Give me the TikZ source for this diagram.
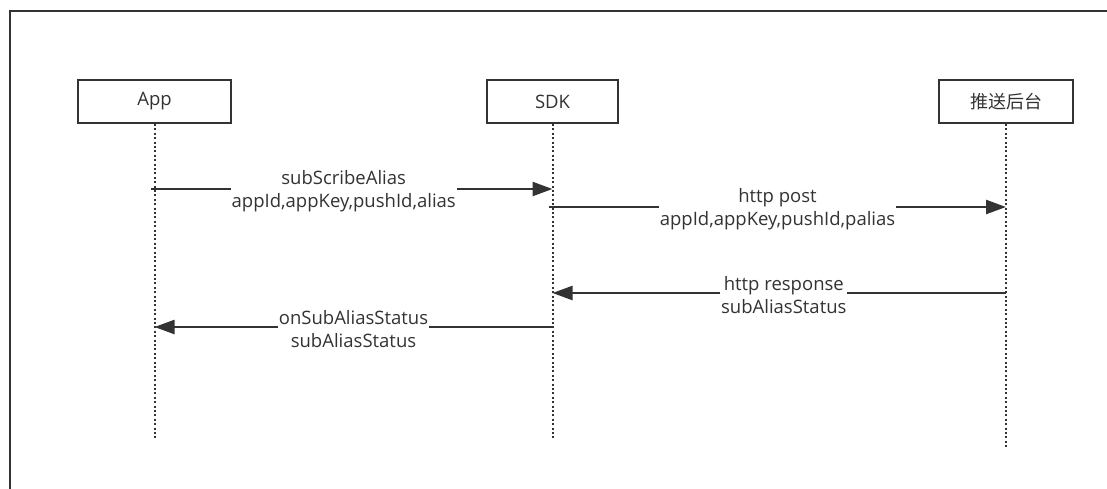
\documentclass[tikz,border=0pt]{standalone}
\usepackage{fontspec}
\setmainfont{Open Sans}
\newfontfamily\cjk{Noto Sans CJK SC}
\usetikzlibrary{arrows.meta}
\definecolor{ink}{HTML}{333333}
\tikzset{
  actor/.style={draw=ink, line width=1.8pt, minimum height=43pt, inner sep=0pt,
    text=ink, font=\fontsize{18.5}{22}\selectfont},
  lifeline/.style={draw=ink, line width=2pt, dash pattern=on 2pt off 2.4pt},
  msg/.style={draw=ink, line width=2.4pt, -{Triangle[length=20pt,width=14pt]}},
  msglabel/.style={fill=white, align=center, inner sep=1pt, text=ink,
    font=\fontsize{18.5}{23}\selectfont}
}
\begin{document}
\begin{tikzpicture}[x=1pt,y=-1pt]
  \useasboundingbox (0,0) rectangle (1107,488);
  % frame
  \draw[ink, line width=1.2pt] (10,490) -- (10,11) -- (1110,11);
  % actors
  \node[actor, minimum width=153pt] (app) at (154.5,101.5) {App};
  \node[actor, minimum width=131pt] (sdk) at (552.5,101.5) {SDK};
  \node[actor, minimum width=134pt] (push) at (1006,101.5) {\cjk\fontsize{18}{20}\selectfont 推送后台};
  % lifelines
  \coordinate (append) at (154.5,440);
  \coordinate (sdkend) at (552.5,440);
  \coordinate (pushend) at (1006,447);
  \draw[lifeline] (app.south) -- (append);
  \draw[lifeline] (sdk.south) -- (sdkend);
  \draw[lifeline] (push.south) -- (pushend);
  % messages
  \coordinate (a1) at (151,189);
  \coordinate (s1) at (552.5,189);
  \coordinate (s2) at (549,207);
  \coordinate (p2) at (1006,207);
  \coordinate (p3) at (1006,293);
  \coordinate (s3) at (552.5,293);
  \coordinate (s4) at (552.5,327);
  \coordinate (a4) at (154.5,327);
  \draw[msg] (a1) -- (s1)
    node[msglabel, pos=0.48, yshift=-2pt] (l1) {subScribeAlias\\appId,appKey,pushId,alias};
  \draw[msg] (s2) -- (p2)
    node[msglabel, pos=0.5, yshift=-2pt] (l2) {http post\\appId,appKey,pushId,palias};
  \draw[msg] (p3) -- (s3)
    node[msglabel, pos=0.49, yshift=-2pt] (l3) {http response\\subAliasStatus};
  \draw[msg] (s4) -- (a4)
    node[msglabel, pos=0.5, yshift=-2pt] (l4) {onSubAliasStatus\\subAliasStatus};
\end{tikzpicture}
\end{document}
